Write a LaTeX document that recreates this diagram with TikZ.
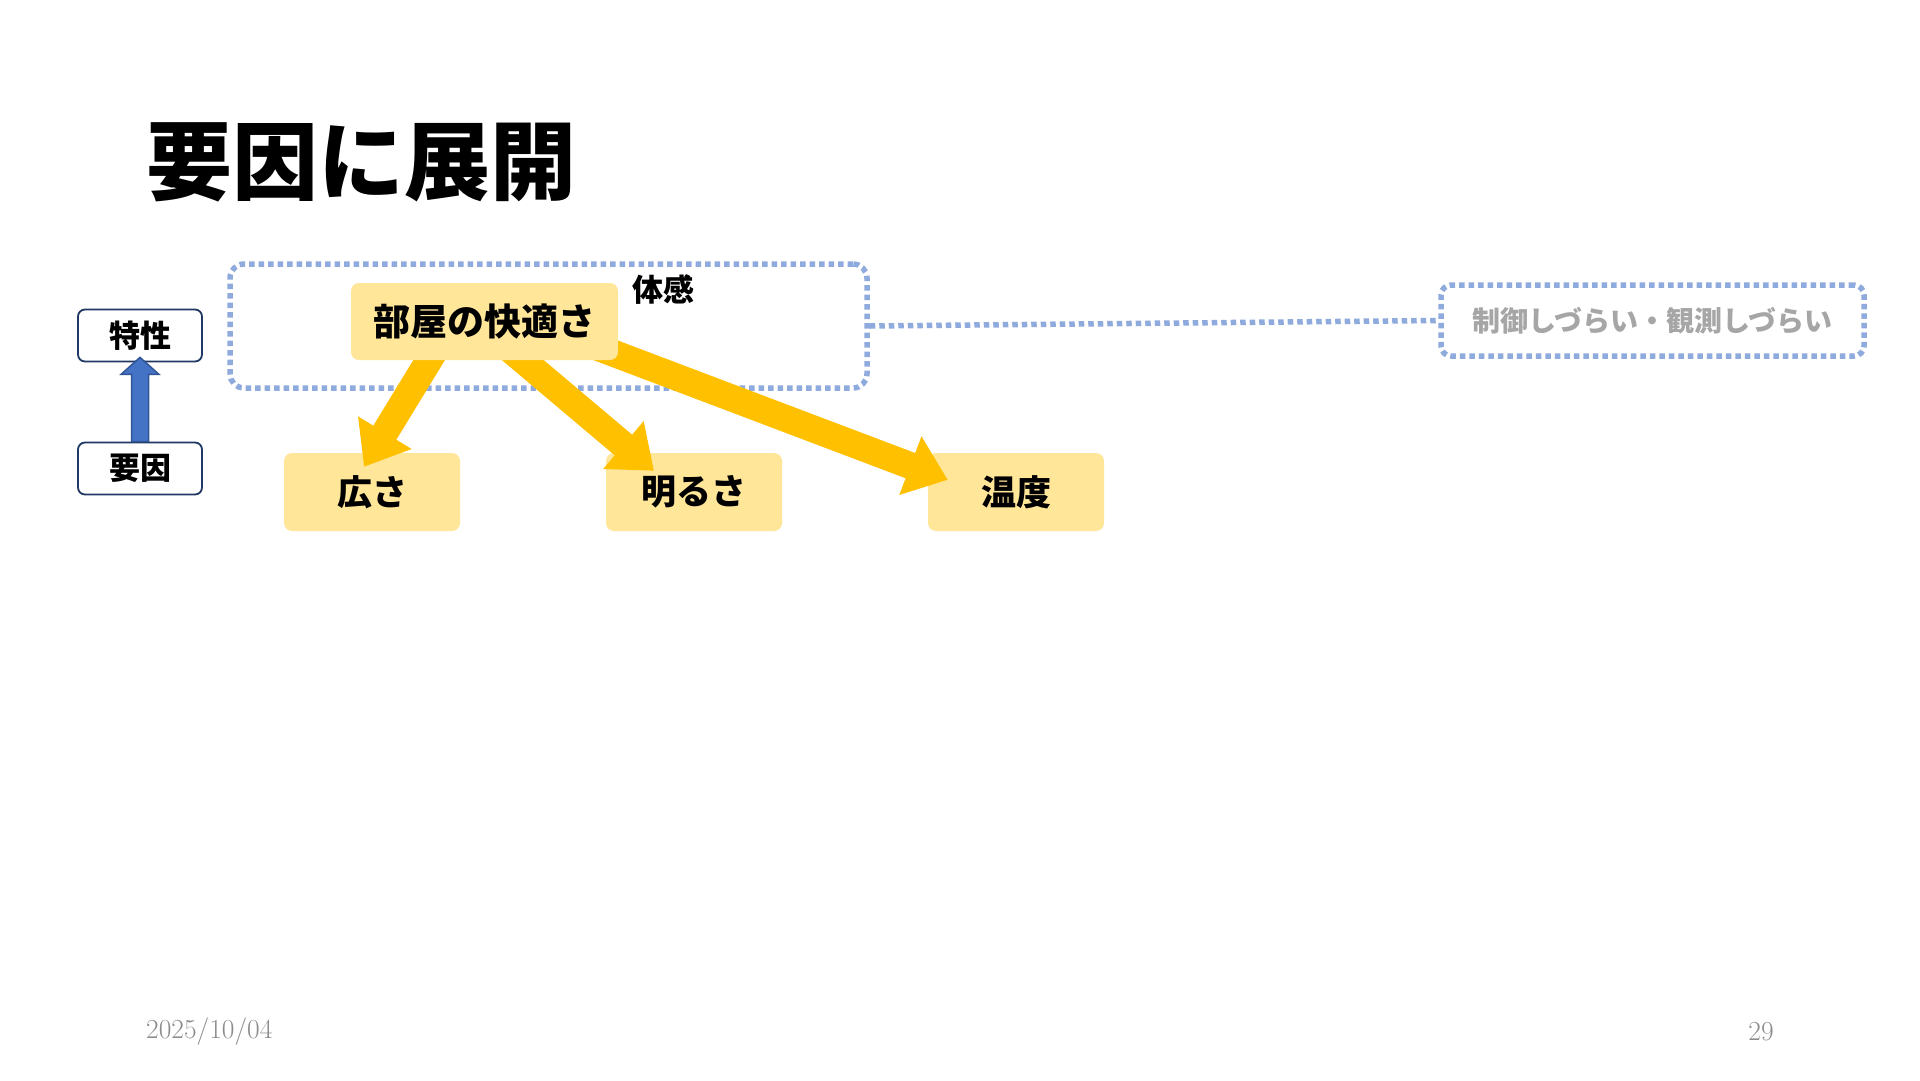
\documentclass[tikz,border=0pt]{standalone}
\usepackage{fontspec}
\newfontfamily\jp{Noto Sans CJK JP}
\usetikzlibrary{arrows.meta,calc}
\definecolor{yboxc}{HTML}{FFE699}
\definecolor{yarrc}{HTML}{FFC000}
\definecolor{dotblue}{HTML}{8FAADC}
\definecolor{navyc}{HTML}{203864}
\definecolor{barrowc}{HTML}{4472C4}
\definecolor{barrowline}{HTML}{2F5597}
\definecolor{gtext}{HTML}{A6A6A6}
\definecolor{dtext}{HTML}{8C8C8C}
\begin{document}
\begin{tikzpicture}[x=1pt,y=-1pt,
  ybox/.style={fill=yboxc, rounded corners=8pt, minimum width=176pt, minimum height=78pt,
    font=\jp\bfseries\fontsize{35}{38}\selectfont, inner sep=0pt},
  dotbox/.style={draw=dotblue, line width=5.5pt, dash pattern=on 5.5pt off 4pt,
    rounded corners=14pt, inner sep=0pt},
  dotline/.style={draw=dotblue, line width=5.5pt, dash pattern=on 5.5pt off 4pt},
  smallbox/.style={draw=navyc, line width=1.8pt, fill=white, rounded corners=7pt,
    minimum width=124pt, minimum height=52pt, font=\jp\bfseries\fontsize{31}{34}\selectfont, inner sep=0pt},
  yarrow/.style={draw=yarrc, line width=27pt, -{Triangle[width=60pt,length=40pt]}},
]
\useasboundingbox[fill=white] (0,0) rectangle (1920,1080);

% title
\node[font=\jp\bfseries\fontsize{86}{90}\selectfont, anchor=west, inner sep=0pt] (title) at (146,162) {要因に展開};

% dotted boxes
\node[dotbox, minimum width=637pt, minimum height=124pt] (taikan) at (548.5,326) {};
\node[dotbox, rounded corners=10pt, minimum width=423pt, minimum height=71pt, text=gtext,
  font=\jp\bfseries\fontsize{28}{32}\selectfont] (hard) at (1652.5,320.5) {制御しづらい・観測しづらい};
\draw[dotline] (taikan.east) -- (hard.west);

% lower yellow boxes
\node[ybox] (hirosa) at (372,492) {広さ};
\node[ybox] (akarusa) at (694,492) {明るさ};
\node[ybox] (ondo) at (1016,492) {温度};
\coordinate (heyas) at (484.5,360);
\coordinate (heyae) at (618,321.5);

% yellow arrows (start hidden under the top box)
\draw[yarrow] ([xshift=-48pt,yshift=12pt]heyas) -- ([xshift=-8pt,yshift=-14pt]hirosa.north);
\draw[yarrow] ([xshift=24pt,yshift=12pt]heyas) -- ([xshift=-40pt,yshift=-18pt]akarusa.north);
\draw[yarrow] ([xshift=-25pt,yshift=-24pt]heyae) -- ([xshift=20pt,yshift=-27pt]ondo.north west);

% top yellow box
\node[ybox, minimum width=267pt, minimum height=77pt, font=\jp\bfseries\fontsize{37}{40}\selectfont] (heya) at (484.5,321.5) {部屋の快適さ};
\node[font=\jp\bfseries\fontsize{31}{34}\selectfont, inner sep=0pt] (taikanlabel) at (663,290) {体感};

% legend
\node[smallbox] (tokusei) at (140,335.5) {特性};
\node[smallbox] (youin) at (140,468.5) {要因};
\filldraw[fill=barrowc, draw=barrowline, line width=1.5pt]
  ($(youin.north)+(-8.5,0)$) -- ($(tokusei.south)+(-8.5,12)$) -- ($(tokusei.south)+(-19,12)$)
  -- ($(tokusei.south)+(0,-5)$) -- ($(tokusei.south)+(19,12)$) -- ($(tokusei.south)+(8.5,12)$)
  -- ($(youin.north)+(8.5,0)$) -- cycle;

% footer
\node[text=dtext, font=\fontsize{27.5}{30}\selectfont, anchor=west, inner sep=0pt] (date) at (146,1032) {2025/10/04};
\node[text=dtext, font=\fontsize{27.5}{30}\selectfont, inner sep=0pt] (page) at (1761,1032) {29};
\end{tikzpicture}
\end{document}
